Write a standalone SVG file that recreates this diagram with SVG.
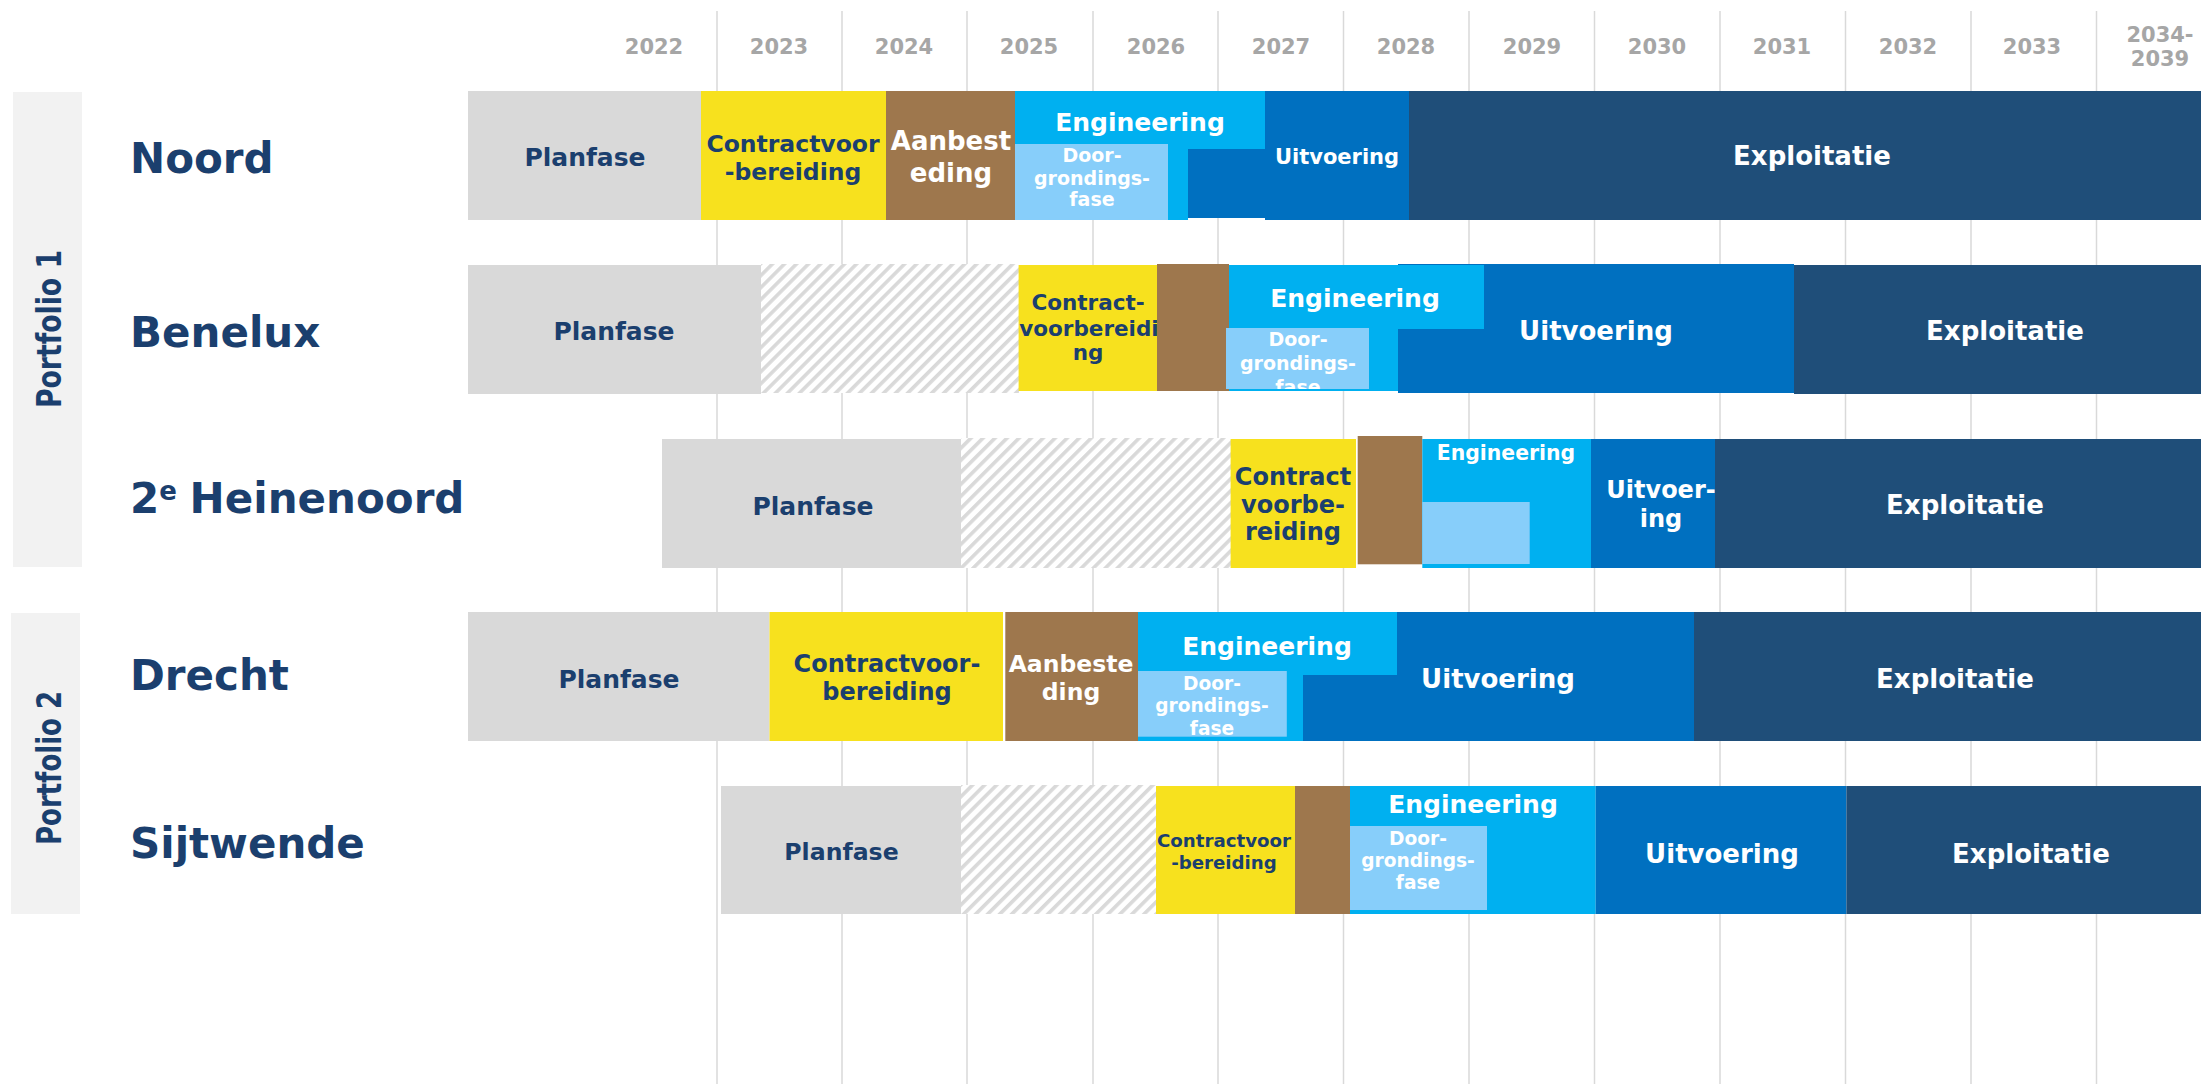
<svg xmlns="http://www.w3.org/2000/svg" width="2201" height="1084" viewBox="0 0 2201 1084">
<style>
.t{font-family:"DejaVu Sans",Verdana,sans-serif;font-weight:bold;text-anchor:middle}
.lbl{font-family:"DejaVu Sans",Verdana,sans-serif;font-weight:bold;font-size:42px;fill:#1B3F6E}
.yr{font-size:21px;fill:#A6A6A6}
.w{fill:#FFFFFF}
.d{fill:#1B3F6E}
.grid{stroke:#D9D9D9;stroke-width:1.5}
.pf{fill:#F2F2F2}
.plan{fill:#D9D9D9}
.hatch{fill:url(#hatch)}
.con{fill:#F7E11E}
.aan{fill:#9E774D}
.eng{fill:#00B0F0}
.door{fill:#87CEFA}
.uit{fill:#0070C0}
.exp{fill:#1F4E79}
</style>
<defs>
<pattern id="hatch" patternUnits="userSpaceOnUse" width="8.5" height="8.5" patternTransform="rotate(45)">
<rect width="8.5" height="8.5" fill="#FFFFFF"/>
<rect width="3.6" height="8.5" fill="#D9D9D9"/>
</pattern>
<clipPath id="clipBen"><rect x="1226" y="328" width="143" height="61"/></clipPath>
</defs>
<rect width="2201" height="1084" fill="#FFFFFF"/>

<g id="grid">
<line class="grid" x1="717" y1="11" x2="717" y2="1084"/>
<line class="grid" x1="842" y1="11" x2="842" y2="1084"/>
<line class="grid" x1="967" y1="11" x2="967" y2="1084"/>
<line class="grid" x1="1093" y1="11" x2="1093" y2="1084"/>
<line class="grid" x1="1218" y1="11" x2="1218" y2="1084"/>
<line class="grid" x1="1343.5" y1="11" x2="1343.5" y2="1084"/>
<line class="grid" x1="1469" y1="11" x2="1469" y2="1084"/>
<line class="grid" x1="1594.5" y1="11" x2="1594.5" y2="1084"/>
<line class="grid" x1="1720" y1="11" x2="1720" y2="1084"/>
<line class="grid" x1="1845.5" y1="11" x2="1845.5" y2="1084"/>
<line class="grid" x1="1971" y1="11" x2="1971" y2="1084"/>
<line class="grid" x1="2096.5" y1="11" x2="2096.5" y2="1084"/>
</g>

<g id="years" class="t yr">
<text x="654" y="54">2022</text>
<text x="779" y="54">2023</text>
<text x="904" y="54">2024</text>
<text x="1029" y="54">2025</text>
<text x="1156" y="54">2026</text>
<text x="1281" y="54">2027</text>
<text x="1406" y="54">2028</text>
<text x="1532" y="54">2029</text>
<text x="1657" y="54">2030</text>
<text x="1782" y="54">2031</text>
<text x="1908" y="54">2032</text>
<text x="2032" y="54">2033</text>
<text x="2160" y="42">2034-</text>
<text x="2160" y="66">2039</text>
</g>

<g id="portfolio1">
<rect class="pf" x="13" y="92" width="69" height="475"/>
<text class="t d" font-size="33" textLength="158" lengthAdjust="spacingAndGlyphs" transform="translate(61,329) rotate(-90)">Portfolio 1</text>
</g>
<g id="portfolio2">
<rect class="pf" x="11" y="613" width="69" height="301"/>
<text class="t d" font-size="33" textLength="154" lengthAdjust="spacingAndGlyphs" transform="translate(61,768) rotate(-90)">Portfolio 2</text>
</g>

<g id="labels">
<text class="lbl" x="130" y="173">Noord</text>
<text class="lbl" x="130" y="347">Benelux</text>
<text class="lbl" x="130" y="513">2<tspan font-size="26" dy="-13">e</tspan><tspan x="175" dy="13"> Heinenoord</tspan></text>
<text class="lbl" x="130" y="690">Drecht</text>
<text class="lbl" x="130" y="858">Sijtwende</text>
</g>

<g id="row-noord">
<g id="noord-plan"><rect class="plan" x="468" y="91" width="233" height="129"/><text class="t d" font-size="25" x="585" y="166">Planfase</text></g>
<g id="noord-con"><rect class="con" x="701" y="91" width="185" height="129"/><text class="t d" font-size="23.5" x="793" y="152">Contractvoor</text><text class="t d" font-size="23.5" x="793" y="180">-bereiding</text></g>
<g id="noord-aan"><rect class="aan" x="886" y="91" width="129" height="129"/><text class="t w" font-size="26" x="951" y="150">Aanbest</text><text class="t w" font-size="26" x="951" y="182">eding</text></g>
<g id="noord-eng"><path class="eng" d="M1015 91H1265V149H1188V220H1015Z"/><text class="t w" font-size="25" x="1140" y="131">Engineering</text></g>
<g id="noord-door"><rect class="door" x="1015" y="144" width="153" height="76"/><text class="t w" font-size="19" x="1092" y="162">Door-</text><text class="t w" font-size="19" x="1092" y="185">grondings-</text><text class="t w" font-size="19" x="1092" y="206">fase</text></g>
<g id="noord-uit"><rect class="uit" x="1188" y="149" width="77" height="69"/><rect class="uit" x="1265" y="91" width="144" height="129"/><text class="t w" font-size="21" x="1337" y="164">Uitvoering</text></g>
<g id="noord-exp"><rect class="exp" x="1409" y="91" width="792" height="129"/><text class="t w" font-size="26" x="1812" y="165">Exploitatie</text></g>
</g>

<g id="row-benelux">
<g id="ben-plan"><rect class="plan" x="468" y="265" width="293" height="129"/><text class="t d" font-size="25" x="614" y="340">Planfase</text></g>
<rect id="ben-hatch" class="hatch" x="761" y="264" width="258" height="129"/>
<g id="ben-con"><rect class="con" x="1018.6" y="265" width="138.4" height="126"/><text class="t d" font-size="21.5" x="1088" y="310">Contract-</text><text class="t d" font-size="21.5" x="1089" y="335.5">voorbereidi</text><text class="t d" font-size="21.5" x="1088" y="360">ng</text></g>
<rect id="ben-aan" class="aan" x="1157" y="264" width="72" height="127"/>
<g id="ben-uit"><rect class="uit" x="1398" y="264" width="396" height="129"/><text class="t w" font-size="26" x="1596" y="340">Uitvoering</text></g>
<g id="ben-eng"><path class="eng" d="M1229 265H1484V329H1398V391H1229Z"/><text class="t w" font-size="25" x="1355" y="307">Engineering</text></g>
<g id="ben-door"><rect class="door" x="1226" y="328" width="143" height="61"/><g clip-path="url(#clipBen)"><text class="t w" font-size="19" x="1298" y="346">Door-</text><text class="t w" font-size="19" x="1298" y="370">grondings-</text><text class="t w" font-size="19" x="1298" y="394">fase</text></g></g>
<g id="ben-exp"><rect class="exp" x="1794" y="265" width="407" height="129"/><text class="t w" font-size="26" x="2005" y="340">Exploitatie</text></g>
</g>

<g id="row-heinenoord">
<g id="hei-plan"><rect class="plan" x="662" y="439" width="299" height="129"/><text class="t d" font-size="25" x="813" y="515">Planfase</text></g>
<rect id="hei-hatch" class="hatch" x="961" y="438" width="270" height="130"/>
<g id="hei-con"><rect class="con" x="1230.6" y="439" width="125.4" height="129"/><text class="t d" font-size="24" x="1293" y="485">Contract</text><text class="t d" font-size="24" x="1293" y="512.5">voorbe-</text><text class="t d" font-size="24" x="1293" y="540">reiding</text></g>
<rect id="hei-aan" class="aan" x="1357.7" y="436" width="64.6" height="128.3"/>
<g id="hei-eng"><rect class="eng" x="1422.3" y="439" width="168.7" height="129"/><text class="t w" font-size="20.4" x="1506" y="460">Engineering</text></g>
<rect id="hei-door" class="door" x="1422.3" y="502" width="107.4" height="62"/>
<g id="hei-uit"><rect class="uit" x="1591" y="439" width="124" height="129"/><text class="t w" font-size="24" x="1661" y="498">Uitvoer-</text><text class="t w" font-size="24" x="1661" y="527">ing</text></g>
<g id="hei-exp"><rect class="exp" x="1715" y="439" width="486" height="129"/><text class="t w" font-size="26" x="1965" y="514">Exploitatie</text></g>
</g>

<g id="row-drecht">
<g id="dre-plan"><rect class="plan" x="468" y="612" width="301.5" height="129"/><text class="t d" font-size="25" x="619" y="688">Planfase</text></g>
<g id="dre-con"><rect class="con" x="769.5" y="612" width="233.5" height="129"/><text class="t d" font-size="24" x="887" y="672">Contractvoor-</text><text class="t d" font-size="24" x="887" y="700">bereiding</text></g>
<g id="dre-aan"><rect class="aan" x="1005.3" y="612" width="132.7" height="129"/><text class="t w" font-size="23.5" x="1071" y="672">Aanbeste</text><text class="t w" font-size="23.5" x="1071" y="700">ding</text></g>
<g id="dre-uit"><rect class="uit" x="1303" y="612" width="391" height="129"/><text class="t w" font-size="26" x="1498" y="688">Uitvoering</text></g>
<g id="dre-eng"><path class="eng" d="M1138 612H1397V675H1303V741H1138Z"/><text class="t w" font-size="25" x="1267" y="655">Engineering</text></g>
<g id="dre-door"><rect class="door" x="1138" y="671" width="148.8" height="65.7"/><text class="t w" font-size="18.6" x="1212" y="690">Door-</text><text class="t w" font-size="18.6" x="1212" y="712">grondings-</text><text class="t w" font-size="18.6" x="1212" y="735">fase</text></g>
<g id="dre-exp"><rect class="exp" x="1694" y="612" width="507" height="129"/><text class="t w" font-size="26" x="1955" y="688">Exploitatie</text></g>
</g>

<g id="row-sijtwende">
<g id="sij-plan"><rect class="plan" x="721" y="786" width="240" height="128"/><text class="t d" font-size="23.6" x="841.5" y="860">Planfase</text></g>
<rect id="sij-hatch" class="hatch" x="961" y="785" width="195" height="129"/>
<g id="sij-con"><rect class="con" x="1156" y="786" width="139" height="128"/><text class="t d" font-size="18.2" x="1224" y="847">Contractvoor</text><text class="t d" font-size="18.2" x="1224" y="869">-bereiding</text></g>
<rect id="sij-aan" class="aan" x="1295" y="786" width="55" height="128"/>
<g id="sij-eng"><rect class="eng" x="1350" y="786" width="245.7" height="128"/><text class="t w" font-size="25" x="1473" y="813">Engineering</text></g>
<g id="sij-door"><rect class="door" x="1350" y="826" width="137" height="84"/><text class="t w" font-size="18.6" x="1418" y="845">Door-</text><text class="t w" font-size="18.6" x="1418" y="867">grondings-</text><text class="t w" font-size="18.6" x="1418" y="889">fase</text></g>
<g id="sij-uit"><rect class="uit" x="1595.7" y="786" width="250.7" height="128"/><text class="t w" font-size="26" x="1722" y="863">Uitvoering</text></g>
<g id="sij-exp"><rect class="exp" x="1846.4" y="786" width="354.6" height="128"/><text class="t w" font-size="26" x="2031" y="863">Exploitatie</text></g>
</g>
</svg>
